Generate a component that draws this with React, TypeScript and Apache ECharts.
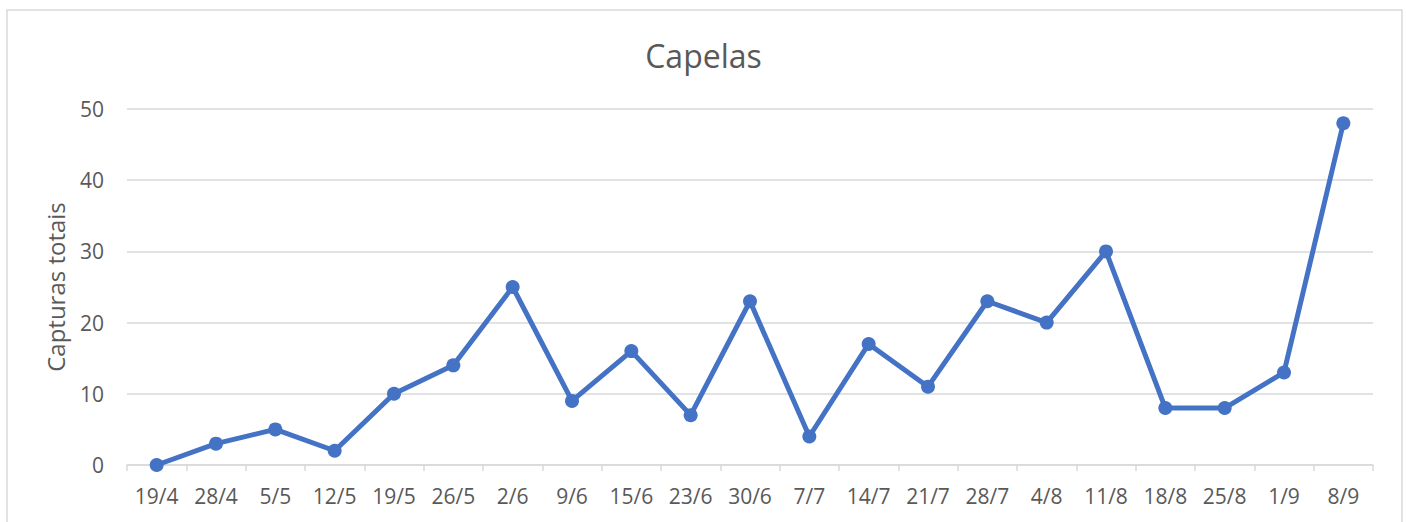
import React, { useEffect, useRef } from "react";
import * as echarts from "echarts";

const categories = ["19/4","28/4","5/5","12/5","19/5","26/5","2/6","9/6","15/6","23/6","30/6","7/7","14/7","21/7","28/7","4/8","11/8","18/8","25/8","1/9","8/9"];
const capturas = [0,3,5,2,10,14,25,9,16,7,23,4,17,11,23,20,30,8,8,13,48];
const yTicks = [0, 10, 20, 30, 40, 50];
const titleText = "Capelas";
const yAxisName = "Capturas totais";

const FONT = "'Open Sans', 'Noto Sans', sans-serif";
const TEXT = "#595959";

export default function App() {
  const ref = useRef<HTMLDivElement>(null);
  useEffect(() => {
    if (!ref.current) return;
    const chart = echarts.init(ref.current, null, { renderer: "svg" });
    chart.setOption({
      animation: false,
      backgroundColor: "#ffffff",
      textStyle: { fontFamily: FONT },
      title: {
        text: titleText,
        left: "center",
        top: 34,
        textStyle: { fontFamily: FONT, fontSize: 32, fontWeight: "normal", color: TEXT },
      },
      graphic: [
        {
          type: "rect",
          shape: { x: 7, y: 10, width: 1395, height: 530 },
          style: { fill: "none", stroke: "#d9d9d9", lineWidth: 1.5 },
          silent: true,
        },
      ],
      grid: { left: 127, right: 34, top: 109, bottom: 57 },
      xAxis: {
        type: "category",
        data: categories,
        boundaryGap: true,
        axisLine: { show: true, lineStyle: { color: "#d9d9d9", width: 1.5 } },
        axisTick: { show: true, length: 6, lineStyle: { color: "#d9d9d9", width: 1.5 } },
        axisLabel: { color: TEXT, fontSize: 21, fontFamily: FONT, margin: 20, interval: 0 },
        splitLine: { show: false },
      },
      yAxis: {
        type: "value",
        min: yTicks[0],
        max: yTicks[yTicks.length - 1],
        interval: 10,
        name: yAxisName,
        nameLocation: "middle",
        nameGap: 60,
        nameRotate: 90,
        nameTextStyle: { color: TEXT, fontSize: 24, fontFamily: FONT },
        axisLine: { show: false },
        axisTick: { show: false },
        axisLabel: { color: TEXT, fontSize: 21, fontFamily: FONT, margin: 23 },
        splitLine: { show: true, lineStyle: { color: "#d9d9d9", width: 1.5 } },
      },
      series: [
        {
          type: "line",
          data: capturas,
          symbol: "circle",
          symbolSize: 14,
          itemStyle: { color: "#4472C4" },
          lineStyle: { color: "#4472C4", width: 5 },
        },
      ],
    });
    return () => chart.dispose();
  }, []);
  return (
    <div
      ref={ref}
      style={{ position: "absolute", left: 0, top: 0, width: 1407, height: 522 }}
    />
  );
}
